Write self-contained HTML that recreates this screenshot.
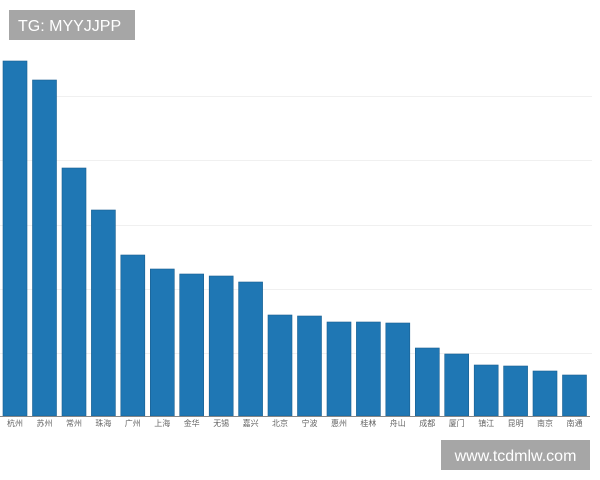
<!DOCTYPE html>
<html><head><meta charset="utf-8"><style>body{margin:0;background:#fff}svg{display:block}</style></head><body>
<svg width="600" height="480" xmlns="http://www.w3.org/2000/svg" font-family="Liberation Sans, Noto Sans CJK SC, sans-serif">
<g stroke="#f0f0f0" stroke-width="1">
<line x1="55" y1="96.5" x2="592" y2="96.5"/><line x1="0" y1="160.5" x2="592" y2="160.5"/><line x1="0" y1="225.5" x2="592" y2="225.5"/><line x1="0" y1="289.5" x2="592" y2="289.5"/><line x1="0" y1="353.5" x2="592" y2="353.5"/>
</g>
<g fill="#1f77b4" stroke="#1a5f90" stroke-width="0.6">
<rect x="3" y="61" width="24" height="355"/>
<rect x="32.5" y="80" width="24" height="336"/>
<rect x="62" y="168" width="24" height="248"/>
<rect x="91.4" y="210" width="24" height="206"/>
<rect x="120.8" y="255" width="24" height="161"/>
<rect x="150.3" y="269" width="24" height="147"/>
<rect x="179.7" y="274" width="24" height="142"/>
<rect x="209.2" y="276" width="24" height="140"/>
<rect x="238.6" y="282" width="24" height="134"/>
<rect x="268" y="315" width="24" height="101"/>
<rect x="297.5" y="316" width="24" height="100"/>
<rect x="327" y="322" width="24" height="94"/>
<rect x="356.4" y="322" width="24" height="94"/>
<rect x="385.8" y="323" width="24" height="93"/>
<rect x="415.3" y="348" width="24" height="68"/>
<rect x="444.7" y="354" width="24" height="62"/>
<rect x="474.2" y="365" width="24" height="51"/>
<rect x="503.6" y="366" width="24" height="50"/>
<rect x="533" y="371" width="24" height="45"/>
<rect x="562.5" y="375" width="24" height="41"/>
</g>
<line x1="0" y1="416.5" x2="590" y2="416.5" stroke="#888" stroke-width="1"/>
<g font-size="8" fill="#666" text-anchor="middle">
<text x="15" y="426">杭州</text><text x="44.5" y="426">苏州</text><text x="74" y="426">常州</text><text x="103.4" y="426">珠海</text><text x="132.8" y="426">广州</text><text x="162.3" y="426">上海</text><text x="191.7" y="426">金华</text><text x="221.2" y="426">无锡</text><text x="250.6" y="426">嘉兴</text><text x="280" y="426">北京</text><text x="309.5" y="426">宁波</text><text x="339" y="426">惠州</text><text x="368.4" y="426">桂林</text><text x="397.8" y="426">舟山</text><text x="427.3" y="426">成都</text><text x="456.7" y="426">厦门</text><text x="486.2" y="426">镇江</text><text x="515.6" y="426">昆明</text><text x="545" y="426">南京</text><text x="574.5" y="426">南通</text>
</g>
<rect x="9" y="10" width="126" height="30" fill="#a6a6a6"/>
<text x="18" y="31" font-size="16" fill="#fff">TG: MYYJJPP</text>
<rect x="441" y="440" width="149" height="30" fill="#a6a6a6"/>
<text x="515.5" y="461" font-size="16" fill="#fff" text-anchor="middle">www.tcdmlw.com</text>
</svg>
</body></html>
